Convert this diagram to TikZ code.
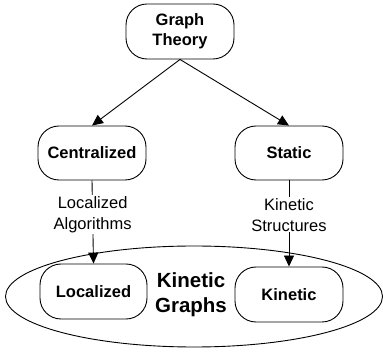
\documentclass[tikz,border=0pt]{standalone}
\usepackage{fontspec}
\setmainfont{Liberation Sans}
\usetikzlibrary{arrows.meta}
\begin{document}
\begin{tikzpicture}[x=1pt,y=-1pt,
  box/.style={draw,line width=0.9pt,rounded corners=21pt,minimum width=108pt,minimum height=55pt,
    align=center,inner sep=0pt,font=\fontsize{16.5}{20}\selectfont\bfseries},
  link/.style={line width=0.9pt,-{Triangle[length=11pt,width=10pt]}},
  lbl/.style={fill=white,align=center,inner sep=1pt,font=\fontsize{16.5}{21}\selectfont}]
\useasboundingbox (0,0) rectangle (383,352);
% class ellipse
\draw[line width=0.9pt] (194,296.5) ellipse [x radius=188.5,y radius=50.5];
\node[align=center,font=\fontsize{20.5}{25}\selectfont\bfseries] (kg) at (191,294.5) {Kinetic\\Graphs};
% boxes
\node[box] (gt) at (180,31.5) {Graph\\Theory};
\node[box,minimum height=54pt] (cen) at (92,153) {Centralized};
\node[box,minimum height=54pt] (sta) at (289,153) {Static};
\node[box,minimum width=107pt] (loc) at (93.5,291.5) {Localized};
\node[box] (kin) at (289,294.5) {Kinetic};
% connectors
\draw[link] (gt.south) -- (cen.north);
\draw[link] (gt.south) -- (sta.north);
\draw[link] (cen.south) -- (loc.north) node[lbl,pos=0.41] {Localized\\Algorithms};
\draw[link] (sta.south) -- (kin.north) node[lbl,pos=0.40] {Kinetic\\Structures};
\end{tikzpicture}
\end{document}
